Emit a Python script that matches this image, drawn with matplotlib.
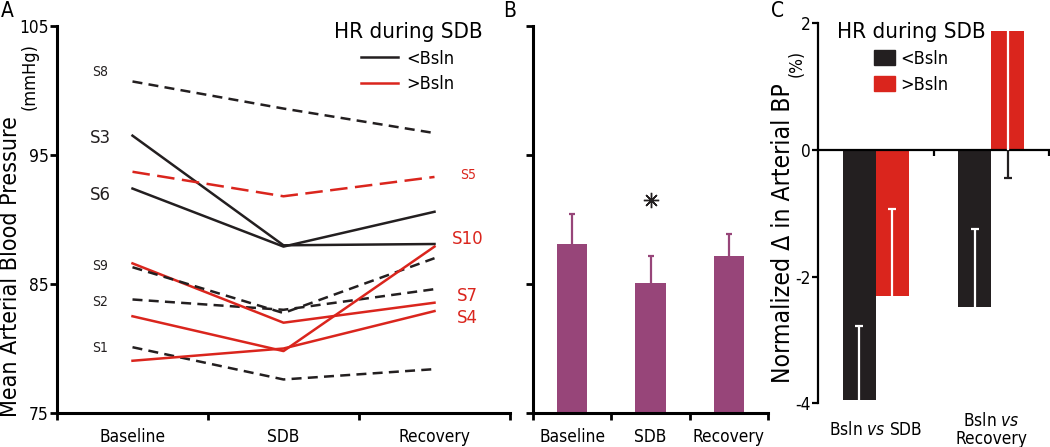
import numpy as np
import matplotlib.pyplot as plt
from matplotlib.lines import Line2D
from matplotlib.patches import Patch

plt.rcParams['font.family'] = 'DejaVu Sans'
plt.rcParams['font.stretch'] = 'condensed'
plt.rcParams['axes.unicode_minus'] = False

# data
phases = ['Baseline', 'SDB', 'Recovery']
subjects = ['S1', 'S2', 'S3', 'S4', 'S5', 'S6', 'S7', 'S8', 'S9', 'S10']
baseline = [80.1, 83.8, 96.5, 79.05, 93.7, 92.4, 86.6, 100.7, 86.3, 82.5]
sdb = [77.6, 83.0, 88.0, 80.0, 91.8, 87.9, 82.0, 98.6, 82.75, 79.8]
recovery = [78.4, 84.6, 88.1, 82.9, 93.3, 90.6, 83.55, 96.7, 87.0, 87.9]
hr_group = ['<Bsln', '<Bsln', '<Bsln', '>Bsln', '>Bsln',
            '<Bsln', '>Bsln', '<Bsln', '<Bsln', '>Bsln']
dashed = [True, True, False, False, True, False, False, True, True, False]

mean_bp = [88.1, 85.1, 87.2]
sem_bp = [2.3, 2.1, 1.7]

comparisons = ['Bsln $\\mathit{vs}$ SDB', 'Bsln $\\mathit{vs}$\nRecovery']
delta_lo = [-3.95, -2.49]   # HR < Bsln
delta_hi = [-2.31, 1.88]    # HR > Bsln
sem_lo = [1.17, 1.24]
sem_hi = [1.38, 2.33]

# styling
BLACK = '#231f20'
RED = '#da251d'
PURPLE = '#974579'
colors = {'<Bsln': BLACK, '>Bsln': RED}
# where the subject names sit (y in mmHg)
label_y = {'S1': 80.0, 'S2': 83.6, 'S3': 96.3, 'S4': 82.4, 'S5': 93.45,
           'S6': 91.9, 'S7': 84.1, 'S8': 101.4, 'S9': 86.4, 'S10': 88.5}

fig = plt.figure(figsize=(10.5, 4.47), dpi=100)
W, H = 1050, 447


def px_axes(x0, x1, ytop, ybot):
    return fig.add_axes([x0 / W, (H - ybot) / H, (x1 - x0) / W, (ybot - ytop) / H])


def cat_axis(ax):
    ax.set_xlim(0, 3)
    ax.set_xticks([0, 1, 2, 3])
    ax.set_xticklabels([])
    ax.set_xticks(np.arange(3) + 0.5, minor=True)
    ax.set_xticklabels(phases, minor=True, fontsize=12.4)
    ax.tick_params(axis='x', which='minor', length=0, pad=11)
    ax.tick_params(axis='x', which='major', length=5, width=2)
    ax.tick_params(axis='y', length=5, width=2, labelsize=12.4, pad=1)
    for s in ['top', 'right']:
        ax.spines[s].set_visible(False)
    for s in ['left', 'bottom']:
        ax.spines[s].set_linewidth(2.2)
    ax.set_ylim(75, 105)
    ax.set_yticks([75, 85, 95, 105])


# ---- A
axA = px_axes(57, 510, 26, 413)
cat_axis(axA)
xs = np.arange(3) + 0.5
for i, s in enumerate(subjects):
    c = colors[hr_group[i]]
    vals = [baseline[i], sdb[i], recovery[i]]
    if dashed[i]:
        dash = (4, 2.5) if c == BLACK else (7, 3)
        axA.plot(xs, vals, color=c, lw=1.8, dashes=dash)
    else:
        axA.plot(xs, vals, color=c, lw=1.8)
    fs = 10 if dashed[i] else 13.3
    lx = 0.285 if c == BLACK else 2.72
    axA.text(lx, label_y[s], s, color=c, fontsize=fs, ha='center', va='center')

handles = [Line2D([], [], color=BLACK, lw=1.8), Line2D([], [], color=RED, lw=1.8)]
axA.legend(handles, ['<Bsln', '>Bsln'], title='HR during SDB', loc='upper center',
           bbox_to_anchor=(0.775, 1.01), frameon=False, fontsize=13,
           title_fontsize=16, handlelength=2.0, handletextpad=0.5,
           labelspacing=0.42, borderpad=0, borderaxespad=0)

fig.text(11 / W, (H - 417) / H, 'Mean Arterial Blood Pressure', rotation=90,
         ha='center', va='bottom', fontsize=16.7)
fig.text(30 / W, (H - 110) / H, '(mmHg)', rotation=90, ha='center', va='bottom',
         fontsize=13)

# ---- B
axB = px_axes(533, 768, 26, 413)
cat_axis(axB)
axB.set_yticklabels([])
axB.bar(xs, mean_bp, width=0.39, color=PURPLE, lw=0, zorder=2)
tops = np.array(mean_bp) + np.array(sem_bp)
axB.vlines(xs, mean_bp, tops, color=PURPLE, lw=1.6, zorder=3)
axB.plot(xs, tops, ls='none', marker='_', ms=5, mew=1.6, color=PURPLE, zorder=3)
axB.plot(1.5, 91.5, marker=(8, 2, 0), ms=11, mew=1.0, color=BLACK, ls='none')

# ---- C
axC = px_axes(818, 1049, 23.5, 403)
axC.set_xlim(0, 2)
axC.set_ylim(-4, 2)
axC.set_yticks([-4, -2, 0, 2])
axC.tick_params(axis='y', length=4, width=1.6, labelsize=12.4, pad=1)
axC.set_xticks([1, 2])
axC.set_xticklabels([])
axC.tick_params(axis='x', length=4, width=1.6)
axC.spines['bottom'].set_position(('data', 0))
for s in ['top', 'right']:
    axC.spines[s].set_visible(False)
for s in ['left', 'bottom']:
    axC.spines[s].set_linewidth(1.6)

w = 0.285
gx = np.arange(2) + 0.5
for xpos, vals, sems, col in [(gx - w / 2, delta_lo, sem_lo, BLACK),
                              (gx + w / 2, delta_hi, sem_hi, RED)]:
    axC.bar(xpos, vals, width=w, color=col, lw=0, zorder=2)
    for x, v, e in zip(xpos, vals, sems):
        cap = v - np.sign(v) * e
        if np.sign(cap) != np.sign(v):
            axC.vlines(x, v, 0, color='white', lw=1.6, zorder=3)
            axC.vlines(x, 0, cap, color=BLACK, lw=1.6, zorder=3)
            capc = BLACK
        else:
            axC.vlines(x, v, cap, color='white', lw=1.6, zorder=3)
            capc = 'white'
        axC.plot(x, cap, marker='_', ms=6, mew=1.6, color=capc, zorder=3)

for x, lab in zip(gx, comparisons):
    axC.text(x, -4.42, lab, ha='center', va='center', fontsize=12.4,
             linespacing=1.0)

handles = [Patch(color=BLACK), Patch(color=RED)]
axC.legend(handles, ['<Bsln', '>Bsln'], title='HR during SDB', loc='upper center',
           bbox_to_anchor=(0.403, 1.003), frameon=False, fontsize=13,
           title_fontsize=16, handlelength=1.15, handleheight=0.9,
           handletextpad=0.3, labelspacing=0.42, borderpad=0, borderaxespad=0)

fig.text(783 / W, (H - 383) / H, 'Normalized \u0394 in Arterial BP', rotation=90,
         ha='center', va='bottom', fontsize=17.7)
fig.text(797 / W, (H - 77) / H, '(%)', rotation=90, ha='center', va='bottom',
         fontsize=12.5)

# panel letters
for x, lab in [(1, 'A'), (503, 'B'), (771, 'C')]:
    fig.text(x / W, (H - 1) / H, lab, fontsize=15, ha='left', va='top')

fig.savefig('out.png', dpi=100)
